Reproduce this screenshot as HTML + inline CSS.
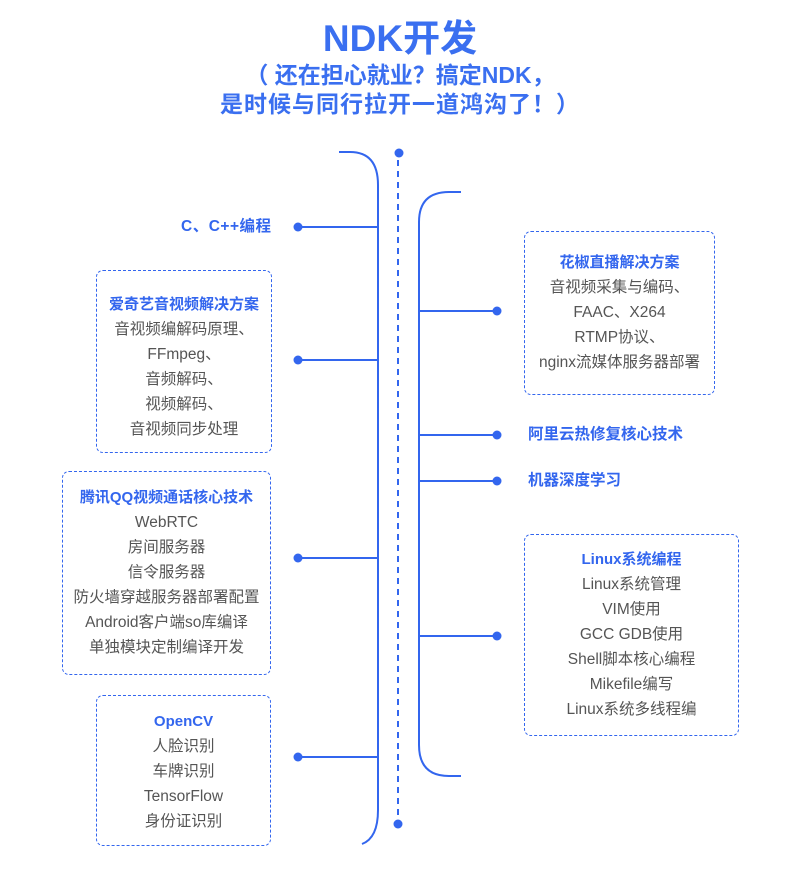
<!DOCTYPE html>
<html><head><meta charset="utf-8"><style>
body{margin:0;width:800px;height:871px;background:#fff;position:relative;overflow:hidden;font-family:"Liberation Sans","Noto Sans CJK SC",sans-serif}
.t{position:absolute;left:0;width:800px;text-align:center;color:#3a6ff0;font-weight:bold}
.box{position:absolute;border:1.3px dashed #3366ee;border-radius:7px;box-sizing:border-box;text-align:center;font-size:15.5px;line-height:25px;color:#555}
.box b{color:#3366ee;display:block;font-size:15px}
.lbl{position:absolute;color:#3366ee;font-weight:bold;font-size:15.5px;line-height:20px;white-space:nowrap}
</style></head><body>
<div class="t" style="top:16px;font-size:37px;line-height:46px">NDK开发</div>
<div class="t" style="top:61px;font-size:23px;line-height:29px">（ 还在担心就业？搞定NDK，</div>
<div class="t" style="top:90px;font-size:23px;line-height:29px;letter-spacing:1px">是时候与同行拉开一道鸿沟了！）</div>
<svg width="800" height="871" style="position:absolute;left:0;top:0" fill="none" stroke="#3366ee" stroke-width="2">
<path d="M339 152 H350 Q378 152 378 185 V810 Q378 838 362 844"/>
<path d="M398 160 V818" stroke-dasharray="6,5"/>
<path d="M461 192 H449 Q419 192 419 222 V745 Q419 776 449 776 H461"/>
<path d="M298 227 H378 M298 360 H378 M298 558 H378 M298 757 H378"/>
<path d="M419 311 H497 M419 435 H497 M419 481 H497 M419 636 H497"/>
<g fill="#3366ee" stroke="none">
<circle cx="399" cy="153" r="4.5"/><circle cx="398" cy="824" r="4.5"/>
<circle cx="298" cy="227" r="4.5"/><circle cx="298" cy="360" r="4.5"/><circle cx="298" cy="558" r="4.5"/><circle cx="298" cy="757" r="4.5"/>
<circle cx="497" cy="311" r="4.5"/><circle cx="497" cy="435" r="4.5"/><circle cx="497" cy="481" r="4.5"/><circle cx="497" cy="636" r="4.5"/>
</g></svg>
<div class="lbl" style="left:181px;top:217px;letter-spacing:0.5px">C、C++编程</div>
<div class="lbl" style="left:528px;top:425px">阿里云热修复核心技术</div>
<div class="lbl" style="left:528px;top:471px">机器深度学习</div>
<div class="box" style="left:96px;top:270px;width:176px;height:183px;padding-top:21px"><b>爱奇艺音视频解决方案</b>音视频编解码原理、<br>FFmpeg、<br>音频解码、<br>视频解码、<br>音视频同步处理</div>
<div class="box" style="left:62px;top:471px;width:209px;height:204px;padding-top:13px"><b>腾讯QQ视频通话核心技术</b>WebRTC<br>房间服务器<br>信令服务器<br>防火墙穿越服务器部署配置<br>Android客户端so库编译<br>单独模块定制编译开发</div>
<div class="box" style="left:96px;top:695px;width:175px;height:151px;padding-top:13px"><b>OpenCV</b>人脸识别<br>车牌识别<br>TensorFlow<br>身份证识别</div>
<div class="box" style="left:524px;top:231px;width:191px;height:164px;padding-top:18px"><b>花椒直播解决方案</b>音视频采集与编码、<br>FAAC、X264<br>RTMP协议、<br>nginx流媒体服务器部署</div>
<div class="box" style="left:524px;top:534px;width:215px;height:202px;padding-top:12px"><b>Linux系统编程</b>Linux系统管理<br>VIM使用<br>GCC GDB使用<br>Shell脚本核心编程<br>Mikefile编写<br>Linux系统多线程编</div>
</body></html>
